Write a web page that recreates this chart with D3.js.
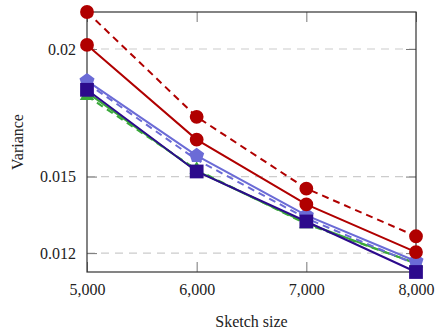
<!DOCTYPE html>
<html>
<head>
<meta charset="utf-8">
<script src="https://d3js.org/d3.v7.min.js"></script>
<style>
body { margin: 0; background: #fff; }
.chart text { font-family: 'Liberation Serif', 'DejaVu Serif', serif; font-size: 16px; fill: #222; }
</style>
</head>
<body>
<div class="chart"></div>
<script>
// sketch sizes on the x axis
const sizes = [5000, 6000, 7000, 8000];
const yTicks = [0.012, 0.015, 0.02];

// variance for each method
const redDashed = [0.02145, 0.01734, 0.01453, 0.01266];
const redSolid = [0.02016, 0.01645, 0.01391, 0.01204];
const blueSolid = [0.01875, 0.01582, 0.01348, 0.01168];
const blueDashed = [0.01866, 0.01566, 0.01336, 0.01156];
const greenSolid = [0.01830, 0.01522, 0.01318, 0.01160];
const greenDashed = [0.01816, 0.01527, 0.01314, 0.01160];
const purpleSolid = [0.01840, 0.01520, 0.01324, 0.01126];

const series = [
  {vals: greenSolid, color: "#3aa83a", dash: null, mark: null},
  {vals: greenDashed, color: "#3aa83a", dash: "7,5", mark: "triangle"},
  {vals: blueDashed, color: "#6b6bd6", dash: "7,5", mark: null},
  {vals: blueSolid, color: "#6b6bd6", dash: null, mark: "pentagon"},
  {vals: purpleSolid, color: "#2c0a8c", dash: null, mark: "square"},
  {vals: redSolid, color: "#b00000", dash: null, mark: "circle"},
  {vals: redDashed, color: "#b00000", dash: "7,5", mark: "circle"}
];

const W = 437, H = 331;
const m = {left: 87, right: 21, top: 12, bottom: 59};

const svg = d3.select(".chart").append("svg")
  .attr("width", W).attr("height", H);

const x = d3.scaleLinear().domain([5000, 8000]).range([m.left, W - m.right]);
const y = d3.scaleLinear().domain([0.01126, 0.02145]).range([H - m.bottom, m.top]);

// dashed grid lines
svg.selectAll(".grid").data(yTicks).enter().append("line")
  .attr("x1", m.left).attr("x2", W - m.right)
  .attr("y1", d => y(d)).attr("y2", d => y(d))
  .attr("stroke", "#cccccc").attr("stroke-width", 1.2)
  .attr("stroke-dasharray", "8,6");

// axes with inward ticks
const fmt = d3.format(",");
const axBottom = svg.append("g").attr("transform", `translate(0,${H - m.bottom})`)
  .call(d3.axisBottom(x).tickValues(sizes).tickFormat(fmt).tickSizeInner(-10).tickSizeOuter(0).tickPadding(12));
const axTop = svg.append("g").attr("transform", `translate(0,${m.top})`)
  .call(d3.axisTop(x).tickValues(sizes).tickFormat("").tickSizeInner(-10).tickSizeOuter(0));
const axLeft = svg.append("g").attr("transform", `translate(${m.left},0)`)
  .call(d3.axisLeft(y).tickValues(yTicks).tickFormat(d => String(d)).tickSizeInner(-10).tickSizeOuter(0).tickPadding(11));
const axRight = svg.append("g").attr("transform", `translate(${W - m.right},0)`)
  .call(d3.axisRight(y).tickValues(yTicks).tickFormat("").tickSizeInner(-10).tickSizeOuter(0));

[axBottom, axTop, axLeft, axRight].forEach(g => {
  g.select(".domain").remove();
  g.selectAll(".tick line").attr("stroke", "#777").attr("stroke-width", 1);
  g.selectAll("text").attr("font-family", "'Liberation Serif', serif").attr("font-size", 16).attr("fill", "#222");
});

// frame
svg.append("rect")
  .attr("x", m.left).attr("y", m.top)
  .attr("width", W - m.left - m.right).attr("height", H - m.top - m.bottom)
  .attr("fill", "none").attr("stroke", "#333").attr("stroke-width", 1.2);

const line = d3.line().x((d, i) => x(sizes[i])).y(d => y(d));

const symbols = {
  circle: d3.symbol().type(d3.symbolCircle).size(150),
  square: d3.symbol().type(d3.symbolSquare).size(190),
  triangle: d3.symbol().type(d3.symbolTriangle).size(90),
  pentagon: d3.symbol().type({draw(ctx, size) {
    const r = Math.sqrt(size / 2.4);
    for (let k = 0; k < 5; k++) {
      const a = -Math.PI / 2 + k * 2 * Math.PI / 5;
      k ? ctx.lineTo(r * Math.cos(a), r * Math.sin(a)) : ctx.moveTo(r * Math.cos(a), r * Math.sin(a));
    }
    ctx.closePath();
  }}).size(150)
};

series.forEach(s => {
  svg.append("path").datum(s.vals)
    .attr("d", line).attr("fill", "none")
    .attr("stroke", s.color).attr("stroke-width", 2)
    .attr("stroke-dasharray", s.dash);
});

series.filter(s => s.mark).forEach(s => {
  svg.selectAll(null).data(s.vals).enter().append("path")
    .attr("transform", (d, i) => `translate(${x(sizes[i])},${y(d)})`)
    .attr("d", symbols[s.mark])
    .attr("fill", s.color);
});

// axis titles
svg.append("text")
  .attr("x", (m.left + W - m.right) / 2).attr("y", 327)
  .attr("text-anchor", "middle").text("Sketch size");
svg.append("text")
  .attr("transform", `translate(23,${(m.top + H - m.bottom) / 2}) rotate(-90)`)
  .attr("text-anchor", "middle").text("Variance");
</script>
</body>
</html>
